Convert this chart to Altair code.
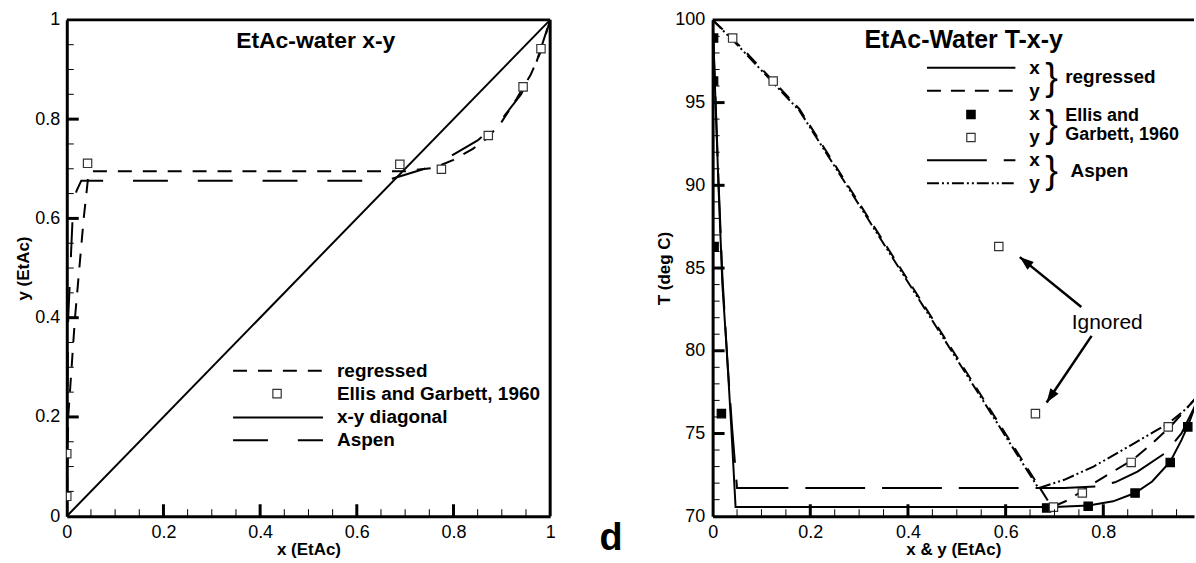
import altair as alt
import pandas as pd

# ---------------- left panel: x-y diagram ----------------
reg_xy_x = [0, 0.003, 0.017, 0.035, 0.045, 0.05, 0.70, 0.76, 0.80, 0.84, 0.87, 0.90, 0.93, 0.96, 0.98, 1.0]
reg_xy_y = [0, 0.2, 0.4, 0.6, 0.69, 0.695, 0.695, 0.702, 0.718, 0.74, 0.762, 0.795, 0.84, 0.89, 0.935, 1.0]
asp_xy_x = [0, 0.001, 0.003, 0.012, 0.02, 0.03, 0.66, 0.70, 0.74, 0.79, 0.85, 0.90, 0.94, 0.97, 1.0]
asp_xy_y = [0, 0.2, 0.4, 0.6, 0.655, 0.676, 0.676, 0.688, 0.700, 0.723, 0.757, 0.80, 0.85, 0.91, 1.0]
diag_x = [0, 1]
diag_y = [0, 1]
ellis_xy_x = [0.0, 0.0, 0.043, 0.689, 0.775, 0.872, 0.944, 0.981]
ellis_xy_y = [0.04, 0.126, 0.711, 0.709, 0.699, 0.767, 0.865, 0.942]

left_legend_labels = ["regressed", "Ellis and Garbett, 1960", "x-y diagonal", "Aspen"]

# ---------------- right panel: T-x-y diagram ----------------
reg_tx_x = [0, 0.006, 0.012, 0.02, 0.029, 0.038, 0.047, 0.70, 0.77, 0.82, 0.865, 0.90, 0.937, 0.96, 0.975, 0.99, 1.0]
reg_tx_T = [100, 95, 90, 84, 80, 75.5, 70.55, 70.55, 70.65, 70.9, 71.4, 72.1, 73.3, 74.6, 75.6, 76.8, 77.5]
reg_ty_x = [0, 0.06, 0.124, 0.178, 0.695, 0.73, 0.77, 0.82, 0.86, 0.90, 0.94, 0.97, 1.0]
reg_ty_T = [100, 98.3, 96.3, 94.6, 70.55, 71.0, 71.8, 72.7, 73.4, 74.4, 75.5, 76.5, 77.5]
asp_tx_x = [0, 0.006, 0.012, 0.02, 0.03, 0.04, 0.05, 0.72, 0.79, 0.824, 0.87, 0.926, 0.96, 0.985, 1.0]
asp_tx_T = [100, 95.2, 90.3, 84.5, 79.5, 75.3, 71.7, 71.7, 71.8, 72.05, 72.7, 73.8, 75.0, 76.5, 77.5]
asp_ty_x = [0, 0.06, 0.124, 0.178, 0.667, 0.72, 0.78, 0.857, 0.933, 0.97, 1.0]
asp_ty_T = [100, 98.2, 96.2, 94.5, 71.7, 72.2, 73.0, 74.3, 75.6, 76.5, 77.5]
ellis_tx_x = [0.002, 0.002, 0.003, 0.018, 0.684, 0.769, 0.865, 0.937, 0.973]
ellis_tx_T = [98.9, 96.3, 86.3, 76.2, 70.5, 70.6, 71.4, 73.25, 75.4]
ellis_ty_x = [0.041, 0.124, 0.586, 0.661, 0.698, 0.757, 0.857, 0.933]
ellis_ty_T = [98.9, 96.3, 86.3, 76.2, 70.55, 71.4, 73.25, 75.4]

# ticks
l_major = [0, 0.2, 0.4, 0.6, 0.8, 1.0]
l_minor = [0.05, 0.1, 0.15, 0.25, 0.3, 0.35, 0.45, 0.5, 0.55, 0.65, 0.7, 0.75, 0.85, 0.9, 0.95]
r_x_major = [0, 0.2, 0.4, 0.6, 0.8]
r_x_minor = [0.05, 0.1, 0.15, 0.25, 0.3, 0.35, 0.45, 0.5, 0.55, 0.65, 0.7, 0.75, 0.85, 0.9, 0.95]
r_y_major = [70, 75, 80, 85, 90, 95, 100]
r_y_minor = [t for t in range(71, 100) if t % 5 != 0]

W1, W2, H = 485, 483, 498
XMAX_R = W2 / 490.0
FONT = "Liberation Sans"
MAJ, MIN = 12, 7  # inner tick lengths in pixels


def xenc(title, domain, values):
    return alt.X("x:Q", scale=alt.Scale(domain=domain, nice=False, zero=False),
                 axis=alt.Axis(values=values, format="~g", title=title, ticks=False, grid=False,
                               domainColor="black", domainWidth=3, labelFontSize=18,
                               labelColor="black", labelPadding=7, labelFlush=False,
                               titleFontSize=17, titleFontWeight="bold", titleColor="black",
                               titlePadding=0))


def yenc(title, domain, values, lpad, tpad, fmt):
    return alt.Y("y:Q", scale=alt.Scale(domain=domain, nice=False, zero=False),
                 axis=alt.Axis(values=values, format=fmt, title=title, ticks=False, grid=False,
                               domainColor="black", domainWidth=3, labelFontSize=18,
                               labelColor="black", labelPadding=lpad,
                               titleFontSize=17, titleFontWeight="bold", titleColor="black",
                               titlePadding=tpad))


def df(x, y, **kw):
    d = pd.DataFrame({"x": x, "y": y})
    d["o"] = range(len(d))
    for k, v in kw.items():
        d[k] = v
    return d


def panel(X, Y, W, lines, points, texts, legend_rules, legend_pts, right_border, extra):
    layers = []
    for (xs, ys, dash) in lines:
        m = dict(color="black", strokeWidth=2, clip=True)
        if dash:
            m["strokeDash"] = dash
        layers.append(alt.Chart(df(xs, ys)).mark_line(**m).encode(x=X, y=Y, order="o:Q"))
    for (xs, ys, fill, stroke) in points:
        layers.append(alt.Chart(df(xs, ys)).mark_point(
            shape="square", size=70, filled=True, fill=fill, stroke=stroke, strokeWidth=1.2,
            opacity=1, clip=True).encode(x=X, y=Y))
    for (x1, x2, yy, dash) in legend_rules:
        m = dict(color="black", strokeWidth=2)
        if dash:
            m["strokeDash"] = dash
        d = pd.DataFrame({"x": [x1], "x2": [x2], "y": [yy]})
        layers.append(alt.Chart(d).mark_rule(**m).encode(x=X, x2="x2:Q", y=Y))
    for (xx, yy, fill, stroke) in legend_pts:
        layers.append(alt.Chart(df([xx], [yy])).mark_point(
            shape="square", size=70, filled=True, fill=fill, stroke=stroke, strokeWidth=1.2,
            opacity=1).encode(x=X, y=Y))
    for (xs, ys, ts, style) in texts:
        d = pd.DataFrame({"x": xs, "y": ys, "t": ts})
        layers.append(alt.Chart(d).mark_text(color="black", font=FONT, baseline="middle", **style)
                      .encode(x=X, y=Y, text="t:N"))
    layers.extend(extra)
    one = pd.DataFrame({"a": [0]})
    layers.append(alt.Chart(one).mark_rule(color="black", strokeWidth=3).encode(
        x=alt.value(0), x2=alt.value(W), y=alt.value(0)))
    if right_border:
        layers.append(alt.Chart(one).mark_rule(color="black", strokeWidth=3).encode(
            x=alt.value(W), y=alt.value(0), y2=alt.value(H)))
    return layers


def tick_layers(X, Y, xmaj, xmin, ymaj, ymin, x0, y0, px_x, px_y):
    """Inner ticks drawn as rules in data units (px_x / px_y = data units per pixel)."""
    out = []
    for vals, length, thick in ((xmaj, MAJ, 3), (xmin, MIN, 1)):
        d = pd.DataFrame({"x": vals, "y": [y0] * len(vals), "y2": [y0 + length * px_y] * len(vals)})
        out.append(alt.Chart(d).mark_rule(color="black", strokeWidth=thick)
                   .encode(x=X, y=Y, y2="y2:Q"))
    for vals, length, thick in ((ymaj, MAJ, 3), (ymin, MIN, 1)):
        d = pd.DataFrame({"x": [x0] * len(vals), "x2": [x0 + length * px_x] * len(vals), "y": vals})
        out.append(alt.Chart(d).mark_rule(color="black", strokeWidth=thick)
                   .encode(x=X, x2="x2:Q", y=Y))
    return out


# ---------- left panel ----------
XL = xenc("x (EtAc)", [0, 1], l_major)
YL = yenc("y (EtAc)", [0, 1], l_major, 7, 2, "~g")

left_layers = panel(
    XL, YL, W1,
    lines=[(diag_x, diag_y, None), (reg_xy_x, reg_xy_y, [14, 11]), (asp_xy_x, asp_xy_y, [35, 30])],
    points=[(ellis_xy_x, ellis_xy_y, "white", "#333")],
    texts=[
        ([0.515], [0.958], ["EtAc-water  x-y"], dict(fontSize=23, fontWeight="bold", align="center")),
        ([0.559] * 4, [0.293, 0.247, 0.199, 0.153], left_legend_labels,
         dict(fontSize=19, fontWeight="bold", align="left")),
    ],
    legend_rules=[(0.344, 0.53, 0.293, [14, 11]), (0.344, 0.53, 0.199, None), (0.344, 0.53, 0.153, [35, 30])],
    legend_pts=[(0.435, 0.247, "white", "#333")],
    right_border=True,
    extra=tick_layers(XL, YL, l_major[1:-1], l_minor, l_major[1:-1], l_minor, 0, 0, 1.0 / W1, 1.0 / H) + [
        alt.Chart(pd.DataFrame({"x": [1.126], "y": [-0.046], "t": ["d"]}))
        .mark_text(fontSize=38, fontWeight="bold", font=FONT, color="black", baseline="middle")
        .encode(x=XL, y=YL, text="t:N")
    ],
)
left = alt.layer(*left_layers).properties(width=W1, height=H)

# ---------- right panel ----------
XR = xenc("x & y (EtAc)", [0, XMAX_R], r_x_major)
YR = yenc("T (deg C)", [70, 100], r_y_major, 8, 1, "d")

rows_T = [97.11, 95.72, 94.28, 92.89, 91.51, 90.12]
arrows = pd.DataFrame({"x": [0.755, 0.776], "y": [82.65, 80.9], "x2": [0.629, 0.684], "y2": [85.66, 76.87]})
arrow_path = "M0,0L0.5,1.4L-0.5,1.4Z"
extra_r = tick_layers(XR, YR, r_x_major[1:], r_x_minor, r_y_major[1:-1], r_y_minor, 0, 70,
                      1.0 / 490, 30.0 / H) + [
    alt.Chart(arrows).mark_rule(color="black", strokeWidth=2.5).encode(x=XR, y=YR, x2="x2:Q", y2="y2:Q"),
    alt.Chart(df([0.629], [85.66])).mark_point(shape=arrow_path, size=400, filled=True, color="black",
                                               opacity=1, angle=309).encode(x=XR, y=YR),
    alt.Chart(df([0.684], [76.87])).mark_point(shape=arrow_path, size=400, filled=True, color="black",
                                               opacity=1, angle=214).encode(x=XR, y=YR),
]

right_layers = panel(
    XR, YR, W2,
    lines=[(reg_tx_x, reg_tx_T, None), (reg_ty_x, reg_ty_T, [14, 10]),
           (asp_tx_x, asp_tx_T, [60, 17]), (asp_ty_x, asp_ty_T, [12, 3, 2, 3, 2, 3])],
    points=[(ellis_tx_x, ellis_tx_T, "black", "black"), (ellis_ty_x, ellis_ty_T, "white", "#333")],
    texts=[
        ([0.514], [98.8], ["EtAc-Water T-x-y"], dict(fontSize=25, fontWeight="bold", align="center")),
        ([0.659] * 6, rows_T, ["x", "y", "x", "y", "x", "y"], dict(fontSize=19, fontWeight="bold", align="center")),
        ([0.694] * 3, [96.42, 93.59, 90.82], ["}", "}", "}"], dict(fontSize=38, align="center")),
        ([0.722, 0.733], [96.57, 90.84], ["regressed", "Aspen"],
         dict(fontSize=19, fontWeight="bold", align="left")),
        ([0.722, 0.722], [94.2, 93.03], ["Ellis and", "Garbett, 1960"],
         dict(fontSize=18, fontWeight="bold", align="left")),
        ([0.808], [81.69], ["Ignored"], dict(fontSize=21, align="center")),
    ],
    legend_rules=[(0.439, 0.62, rows_T[0], None), (0.439, 0.62, rows_T[1], [14, 10]),
                  (0.439, 0.62, rows_T[4], [60, 17]), (0.439, 0.62, rows_T[5], [12, 3, 2, 3, 2, 3])],
    legend_pts=[(0.529, rows_T[2], "black", "black"), (0.529, rows_T[3], "white", "#333")],
    right_border=False,
    extra=extra_r,
)
right = alt.layer(*right_layers).properties(width=W2, height=H)

chart = alt.hconcat(left, right, spacing=163, bounds="flush").properties(
    padding={"left": 14, "top": 9, "right": 0, "bottom": 0}
).configure(font=FONT, background="white").configure_view(stroke="transparent")

chart.save("out.html", embed_options={"renderer": "svg", "actions": False})
